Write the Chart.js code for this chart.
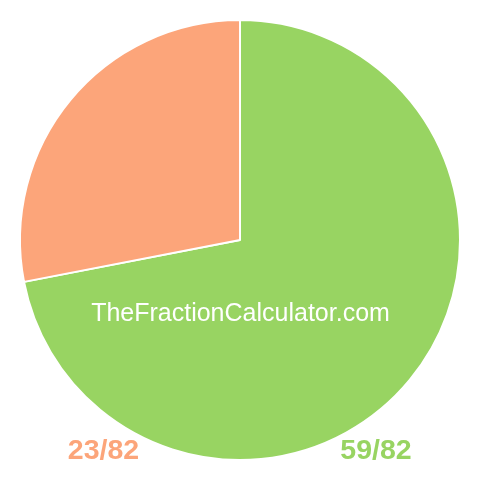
<!DOCTYPE html>
<html>
<head>
<meta charset="utf-8">
<script src="https://cdn.jsdelivr.net/npm/chart.js@4/dist/chart.umd.min.js"></script>
<style>
  html, body { margin: 0; padding: 0; background: #fff; }
  #wrap { position: relative; width: 480px; height: 480px; font-family: "Liberation Sans", Arial, sans-serif; }
  canvas { position: absolute; left: 0; top: 0; }
  .brand { position: absolute; left: 0; width: 481px; top: 300px; line-height: 1; text-align: center; color: #fff; font-size: 25px; }
  .lbl { position: absolute; top: 435px; width: 140px; line-height: 1; text-align: center; font-size: 28.5px; font-weight: bold; }
</style>
</head>
<body>
<div id="wrap">
  <canvas id="pie" width="480" height="480"></canvas>
  <div class="brand">TheFractionCalculator.com</div>
  <div class="lbl" id="lblB" style="left:33.5px;"></div>
  <div class="lbl" id="lblA" style="left:306px;"></div>
</div>
<script>
const labels = ["59/82", "23/82"];
const values = [59, 23];
const colors = ["#98d462", "#fca57a"];

document.getElementById("lblA").textContent = labels[0];
document.getElementById("lblA").style.color = colors[0];
document.getElementById("lblB").textContent = labels[1];
document.getElementById("lblB").style.color = colors[1];

new Chart(document.getElementById("pie"), {
  type: "pie",
  data: {
    labels: labels,
    datasets: [{
      data: values,
      backgroundColor: colors,
      borderColor: "#fff",
      borderWidth: 2
    }]
  },
  options: {
    responsive: false,
    animation: false,
    layout: { padding: 19 },
    plugins: {
      legend: { display: false },
      tooltip: { enabled: false }
    }
  }
});
</script>
</body>
</html>
